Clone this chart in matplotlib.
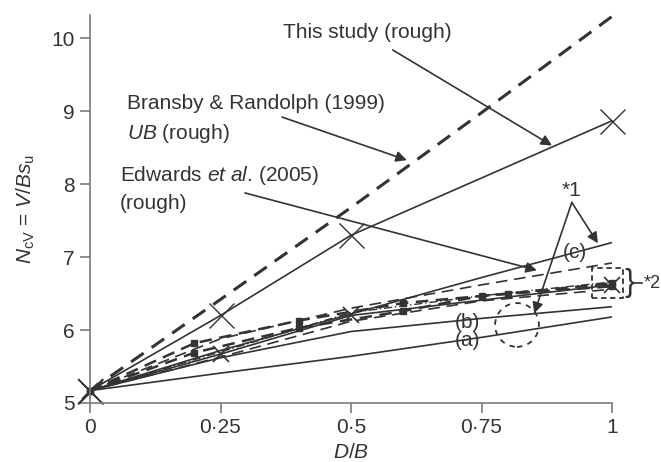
import matplotlib
matplotlib.use('Agg')
import matplotlib.pyplot as plt
from matplotlib.patches import Ellipse, Rectangle

plt.rcParams['font.family'] = ['Liberation Sans', 'DejaVu Sans']
plt.rcParams['mathtext.fontset'] = 'custom'
plt.rcParams['mathtext.rm'] = 'Liberation Sans'
plt.rcParams['mathtext.it'] = 'Liberation Sans:italic'

ink = '#333333'
axc = '#7a7a7a'

# data
xb = [0, 0.25, 0.5, 0.75, 1.0]
bransby_ub = [5.17, 6.42, 7.68, 8.98, 10.3]

x_study = [0, 0.25, 0.5, 1.0]
study_rough = [5.17, 6.2, 7.3, 8.87]
study_low = [5.17, 5.67, 6.2, 6.62]

x5 = [0, 0.25, 0.5, 0.75, 1.0]
edwards = [5.17, 5.88, 6.3, 6.62, 6.92]
line_c = [5.17, 5.72, 6.22, 6.72, 7.2]
line_b = [5.17, 5.62, 5.98, 6.16, 6.32]
line_a = [5.17, 5.41, 5.64, 5.9, 6.18]
dash_low = [5.17, 5.63, 6.12, 6.4, 6.56]
dashdot = [5.17, 5.7, 6.24, 6.47, 6.66]

xs1 = [0, 0.2, 0.4, 0.6, 0.8, 1.0]
sq1 = [5.17, 5.82, 6.13, 6.37, 6.5, 6.64]
xs2 = [0, 0.2, 0.4, 0.6, 0.75, 1.0]
sq2 = [5.17, 5.69, 6.03, 6.26, 6.47, 6.6]

xticks = [0, 0.25, 0.5, 0.75, 1.0]
xticklabels = ['0', '0·25', '0·5', '0·75', '1']
yticks = [5, 6, 7, 8, 9, 10]

fig = plt.figure(figsize=(6.61, 4.62), dpi=100)
ax = fig.add_axes([90/661, 1-403/462, 522/661, 388/462])

ax.plot(xb, bransby_ub, color=ink, lw=2.2, dashes=(5, 3.2), clip_on=False)
ax.plot(x_study, study_rough, color=ink, lw=1.2, marker='x', ms=18, mew=1.0, clip_on=False)
ax.plot(x_study, study_low, color=ink, lw=1.2, marker='x', ms=11, mew=1.2, clip_on=False)
ax.plot(x5, edwards, color=ink, lw=1.2, dashes=(7, 4))
ax.plot(x5, line_c, color=ink, lw=1.2)
ax.plot(x5, line_b, color=ink, lw=1.2)
ax.plot(x5, line_a, color=ink, lw=1.2)
ax.plot(x5, dash_low, color=ink, lw=1.2, dashes=(7, 4))
ax.plot(x5, dashdot, color=ink, lw=1.0, dashes=(6, 2, 1, 2))
ax.plot(xs1, sq1, color=ink, lw=1.8, dashes=(5, 3), marker='s', ms=5, clip_on=False)
ax.plot(xs2, sq2, color=ink, lw=1.8, dashes=(5, 3), marker='s', ms=5, clip_on=False)

# big cross at origin
ax.plot([0], [5.17], color=ink, marker='x', ms=18, mew=1.2, clip_on=False)

ax.add_patch(Ellipse((0.818, 6.07), 0.084, 0.6, fill=False, ec=ink, lw=1.3, ls=(0, (3, 3))))
ax.add_patch(Rectangle((0.962, 6.44), 0.059, 0.41, fill=False, ec=ink, lw=1.3,
                       ls=(0, (3, 2)), clip_on=False))
ax.text(1.034, 6.64, '}', fontsize=22, ha='center', va='center', color=ink, clip_on=False)
ax.plot([1.045, 1.058], [6.64, 6.64], color=ink, lw=1.2, clip_on=False)
ax.text(1.06, 6.64, '*2', fontsize=13, ha='left', va='center', color=ink, clip_on=False)

fs = 15
arrow = dict(arrowstyle='-|>', color=ink, lw=1.2, mutation_scale=16, shrinkA=0, shrinkB=0)

ax.text(0.37, 10.08, 'This study (rough)', fontsize=fs, color=ink, va='center')
ax.annotate('', xy=(0.885, 8.53), xytext=(0.58, 9.84), arrowprops=arrow)

ax.text(0.071, 9.11, 'Bransby & Randolph (1999)', fontsize=fs, color=ink, va='center')
ax.text(0.071, 8.70, r'$\mathit{UB}$ (rough)', fontsize=fs, color=ink, va='center')
ax.annotate('', xy=(0.607, 8.33), xytext=(0.368, 8.92), arrowprops=arrow)

ax.text(0.057, 8.12, r'Edwards $\mathit{et\ al}$. (2005)', fontsize=fs, color=ink, va='center')
ax.text(0.057, 7.74, '(rough)', fontsize=fs, color=ink, va='center')
ax.annotate('', xy=(0.856, 6.82), xytext=(0.297, 7.88), arrowprops=arrow)

ax.text(0.923, 7.92, '*1', fontsize=fs, color=ink, ha='center', va='center')
ax.annotate('', xy=(0.973, 7.19), xytext=(0.923, 7.75), arrowprops=arrow)
ax.annotate('', xy=(0.851, 6.23), xytext=(0.923, 7.75), arrowprops=arrow)

ax.text(0.929, 7.07, '(c)', fontsize=fs, color=ink, ha='center', va='center')
ax.text(0.724, 6.11, '(b)', fontsize=fs, color=ink, ha='center', va='center')
ax.text(0.724, 5.86, '(a)', fontsize=fs, color=ink, ha='center', va='center')

ax.set_xlim(0, 1)
ax.set_ylim(5, 10.32)
ax.set_xticks(xticks)
ax.set_xticklabels(xticklabels)
ax.set_yticks(yticks)
for s in ['top', 'right']:
    ax.spines[s].set_visible(False)
for s in ['left', 'bottom']:
    ax.spines[s].set_color(axc)
    ax.spines[s].set_linewidth(1.2)
ax.tick_params(direction='out', length=7, width=1.2, color=axc, labelsize=fs,
               labelcolor=ink, pad=4)
ax.set_xlabel(r'$D/B$', fontsize=fs, color=ink, labelpad=4)
ax.set_ylabel(r'$N_{\mathrm{cV}}$ = $V/Bs_{\mathrm{u}}$', fontsize=fs, color=ink, labelpad=10)

fig.savefig('out.png', dpi=100)
